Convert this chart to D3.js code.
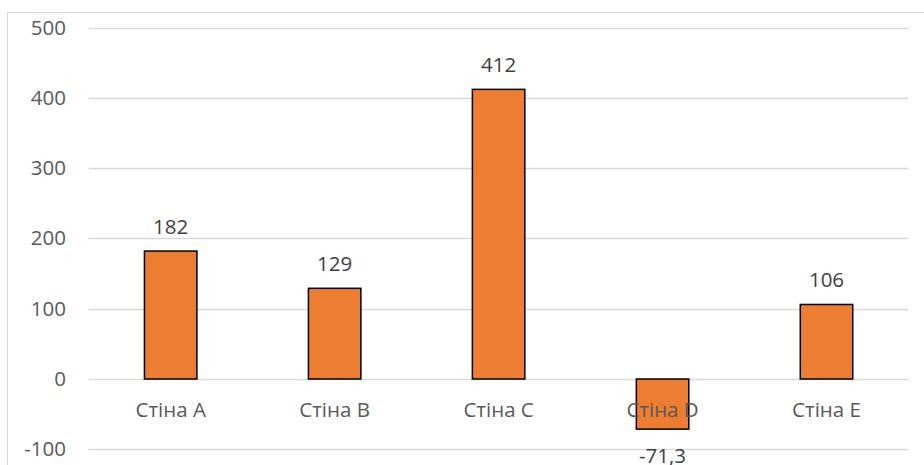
<!DOCTYPE html>
<html><head><meta charset="utf-8">
<script src="https://cdn.jsdelivr.net/npm/d3@7/dist/d3.min.js"></script>
<style>html,body{margin:0;padding:0;background:#fff;overflow:hidden}</style>
</head><body>
<script>
const categories = ["Стіна A", "Стіна B", "Стіна C", "Стіна D", "Стіна E"];
const values = [182, 129, 412, -71.3, 106];
const valueLabels = ["182", "129", "412", "-71,3", "106"];
const yTicks = [-100, 0, 100, 200, 300, 400, 500];

const W = 924, H = 465;
const font = "'Open Sans', sans-serif";
const svg = d3.select("body").append("svg").attr("width", W).attr("height", H);

svg.append("rect").attr("x", 7.5).attr("y", 12.5).attr("width", W + 20).attr("height", H + 20)
  .attr("fill", "#fff").attr("stroke", "#d9d9d9").attr("stroke-width", 1);

const x = d3.scaleBand().domain(categories).range([88.7, 908.5]).paddingInner(0.68).paddingOuter(0.34);
const y = d3.scaleLinear().domain([-100, 500]).range([449.3, 27.5]);

const grid = svg.append("g");
grid.selectAll("line").data(yTicks).join("line")
  .attr("x1", 88.7).attr("x2", 908.5)
  .attr("y1", d => Math.round(y(d)) + 0.5).attr("y2", d => Math.round(y(d)) + 0.5)
  .attr("stroke", "#d9d9d9").attr("stroke-width", 1.3);

const yAxis = d3.axisLeft(y).tickValues(yTicks).tickSize(0).tickPadding(0).tickFormat(d => String(d));
const ya = svg.append("g").attr("transform", "translate(66,0)").call(yAxis);
ya.select(".domain").remove();
ya.selectAll("text").attr("font-family", font).attr("font-size", 20.5).attr("fill", "#595959");

svg.append("g").selectAll("rect").data(values).join("rect")
  .attr("x", (d, i) => x(categories[i]))
  .attr("width", x.bandwidth())
  .attr("y", d => y(Math.max(0, d)))
  .attr("height", d => Math.abs(y(d) - y(0)))
  .attr("fill", "#ED7D31").attr("stroke", "#000").attr("stroke-width", 1.5);

const xAxis = d3.axisBottom(x).tickSize(0).tickPadding(0);
const xa = svg.append("g").attr("transform", `translate(0,${y(0)})`).call(xAxis);
xa.select(".domain").remove();
xa.selectAll("text").attr("font-family", font).attr("font-size", 20.5).attr("fill", "#595959")
  .attr("dy", null).attr("y", 38);

svg.append("g").selectAll("text").data(values).join("text")
  .attr("x", (d, i) => x(categories[i]) + x.bandwidth() / 2)
  .attr("y", d => d >= 0 ? y(d) - 17 : y(d) + 34)
  .attr("text-anchor", "middle")
  .attr("font-family", font).attr("font-size", 20.5).attr("fill", "#404040")
  .text((d, i) => valueLabels[i]);
</script>
</body></html>
